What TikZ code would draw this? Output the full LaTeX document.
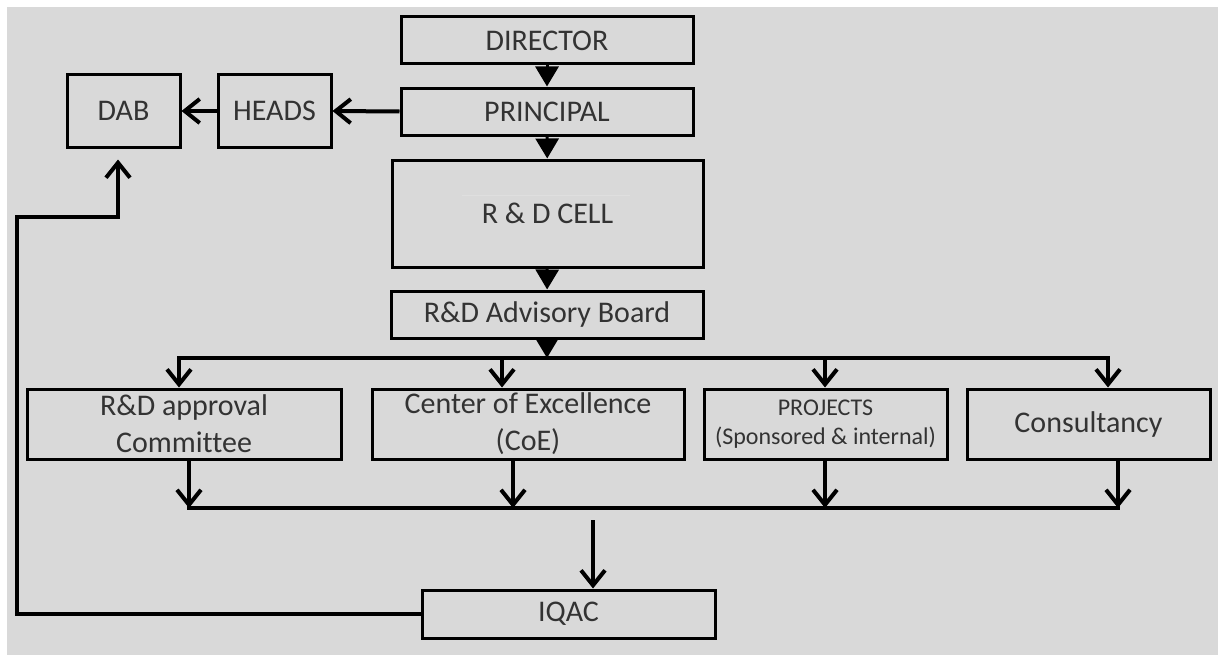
\documentclass[tikz,border=0pt]{standalone}
\usepackage{fontspec}
\setmainfont{Carlito}[Ligatures=NoCommon]
\usetikzlibrary{arrows.meta}
\definecolor{bggray}{HTML}{D9D9D9}
\definecolor{txtgray}{HTML}{333333}
\tikzset{
  box/.style={draw=black, line width=3pt, inner sep=0pt, text=txtgray, align=center, font=\fontsize{30}{37}\selectfont},
  conn/.style={line width=4pt},
  barb/.style={conn, -{Straight Barb[length=15pt,width=24pt]}},
  tri/.style={line width=3pt, -{Triangle[length=20pt,width=23pt]}}
}
\begin{document}
\begin{tikzpicture}[x=1pt,y=-1pt]
\useasboundingbox (0,0) rectangle (1218,661);
\fill [white] (0,0) rectangle (1218,661); \fill [bggray] (7,7) rectangle (1218,655);

\node [box, minimum width=292pt, minimum height=47pt] (director) at (547,40.5) {DIRECTOR};
\node [box, minimum width=292pt, minimum height=47pt] (principal) at (547,111.5) {PRINCIPAL};
\node [box, minimum width=311pt, minimum height=107pt] (cell) at (547.5,213.5) {R \& D CELL};
\draw [line width=0.6pt, gray!25] (462,195) -- (630,195);
\node [box, minimum width=312pt, minimum height=47pt] (board) at (547,314.5) {R\&D Advisory Board};
\node [box, minimum width=113pt, minimum height=72pt] (dab) at (123.5,111) {DAB};
\node [box, minimum width=113pt, minimum height=72pt] (heads) at (274.5,111) {HEADS};

\node [box, minimum width=314pt, minimum height=70pt] (rac) at (184,424) {R\&D approval\\Committee};
\node [box, minimum width=312pt, minimum height=70pt] (coe) at (528,424) {Center of Excellence\\(CoE)};
\node [box, minimum width=243pt, minimum height=70pt, font=\fontsize{24}{29}\selectfont] (proj) at (825.5,424) {PROJECTS\\(Sponsored \& internal)};
\node [box, minimum width=243pt, minimum height=70pt] (cons) at (1088.5,424) {Consultancy};
\node [box, minimum width=293pt, minimum height=48pt] (iqac) at (568.5,614) {IQAC};

\draw [tri] (director) -- (principal); \draw [tri] (principal) -- (cell); \draw [tri] (cell) -- (board);
\draw [barb] (principal.west) -- (heads.east); \draw [barb] (heads.west) -- (dab.east);

\coordinate (t1) at (179,358); \coordinate (t2) at (502,358); \coordinate (t3) at (825,358); \coordinate (t4) at (1108,358);
\draw [tri] (board) -- (board |- t1);
\draw [{Straight Barb[length=15pt,width=24pt]}-{Straight Barb[length=15pt,width=24pt]}, conn] (t1 |- rac.north) -- (t1) -- (t4) -- (t4 |- cons.north);
\draw [barb] (t2) -- (t2 |- coe.north); \draw [barb] (t3) -- (t3 |- proj.north);

\coordinate (b1) at (189,508); \coordinate (b2) at (513,508); \coordinate (b3) at (825,508); \coordinate (b4) at (1118,508);
\draw [conn, line cap=rect] (b1) -- (b4);
\draw [barb] (b1 |- rac.south) -- (b1); \draw [barb] (b2 |- coe.south) -- (b2);
\draw [barb] (b3 |- proj.south) -- (b3); \draw [barb] (b4 |- cons.south) -- (b4);

\coordinate (q) at (593,520); \draw [barb] (q) -- (q |- iqac.north);
\coordinate (fbL) at (17,217); \coordinate (fbR) at (118,217);
\draw [barb, shorten >=11pt] (iqac.west) -| (fbL) -| (fbR |- dab.south);
\end{tikzpicture}
\end{document}
